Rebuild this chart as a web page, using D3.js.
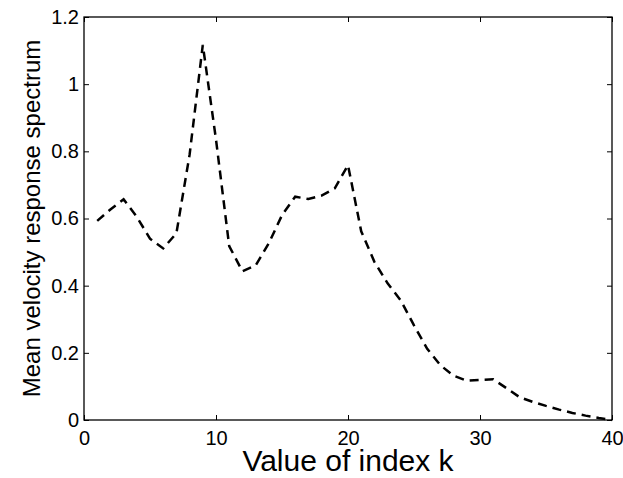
<!DOCTYPE html>
<html>
<head>
<meta charset="utf-8">
<script src="https://cdn.jsdelivr.net/npm/d3@7"></script>
<style>
  html, body { margin: 0; padding: 0; background: #fff; }
  #chart { width: 623px; height: 478px; }
  text { font-family: "Liberation Sans", Arial, sans-serif; fill: #000; }
</style>
</head>
<body>
<div id="chart"></div>
<script>
var indexK = [
  1, 2, 3, 4, 5, 6, 7, 8, 9, 10,
  11, 12, 13, 14, 15, 16, 17, 18, 19, 20,
  21, 22, 23, 24, 25, 26, 27, 28, 29, 30,
  31, 32, 33, 34, 35, 36, 37, 38, 39, 40
];
var spectrum = [
  0.593, 0.627, 0.657, 0.605, 0.540, 0.511, 0.556, 0.790, 1.117, 0.835,
  0.518, 0.443, 0.460, 0.526, 0.610, 0.665, 0.658, 0.668, 0.690, 0.759,
  0.562, 0.471, 0.407, 0.356, 0.282, 0.212, 0.163, 0.132, 0.117, 0.119,
  0.121, 0.095, 0.068, 0.054, 0.042, 0.031, 0.021, 0.013, 0.006, 0.000
];
var xTicks = [0, 10, 20, 30, 40];
var yTicks = [0, 0.2, 0.4, 0.6, 0.8, 1, 1.2];

var margin = {top: 17, right: 11, bottom: 58, left: 84};
var width = 623 - margin.left - margin.right;
var height = 478 - margin.top - margin.bottom;

var svg = d3.select('#chart').append('svg')
  .attr('width', 623)
  .attr('height', 478);
var g = svg.append('g')
  .attr('transform', 'translate(' + margin.left + ',' + margin.top + ')');

var x = d3.scaleLinear().domain([0, 40]).range([0, width]);
var y = d3.scaleLinear().domain([0, 1.2]).range([height, 0]);

// inward ticks on all four sides, MATLAB box style
function styleAxis(sel) {
  sel.select('.domain').remove();
  sel.selectAll('.tick line').attr('stroke', '#000').attr('stroke-width', 1);
  sel.selectAll('.tick text').style('font-size', '20px');
}

g.append('g')
  .attr('transform', 'translate(0,' + height + ')')
  .call(d3.axisBottom(x).tickValues(xTicks).tickFormat(d3.format('d'))
    .tickSizeInner(-5).tickSizeOuter(0).tickPadding(11))
  .call(styleAxis);

g.append('g')
  .call(d3.axisTop(x).tickValues(xTicks).tickFormat('')
    .tickSizeInner(-5).tickSizeOuter(0))
  .call(styleAxis);

g.append('g')
  .call(d3.axisLeft(y).tickValues(yTicks).tickFormat(function (d) { return String(d); })
    .tickSizeInner(-5).tickSizeOuter(0).tickPadding(5))
  .call(styleAxis);

g.append('g')
  .attr('transform', 'translate(' + width + ',0)')
  .call(d3.axisRight(y).tickValues(yTicks).tickFormat('')
    .tickSizeInner(-5).tickSizeOuter(0))
  .call(styleAxis);

g.append('rect')
  .attr('width', width)
  .attr('height', height)
  .attr('fill', 'none')
  .attr('stroke', '#000')
  .attr('stroke-width', 1.3);

var line = d3.line()
  .x(function (d, i) { return x(indexK[i]); })
  .y(function (d) { return y(d); });

g.append('path')
  .datum(spectrum)
  .attr('d', line)
  .attr('fill', 'none')
  .attr('stroke', '#000')
  .attr('stroke-width', 2.5)
  .attr('stroke-dasharray', '9,6');

g.append('text')
  .attr('x', width / 2)
  .attr('y', height + 51)
  .attr('text-anchor', 'middle')
  .style('font-size', '30px')
  .text('Value of index k');

g.append('text')
  .attr('transform', 'translate(' + (-44) + ',' + (height / 2) + ') rotate(-90)')
  .attr('text-anchor', 'middle')
  .style('font-size', '24px')
  .text('Mean velocity response spectrum');
</script>
</body>
</html>
